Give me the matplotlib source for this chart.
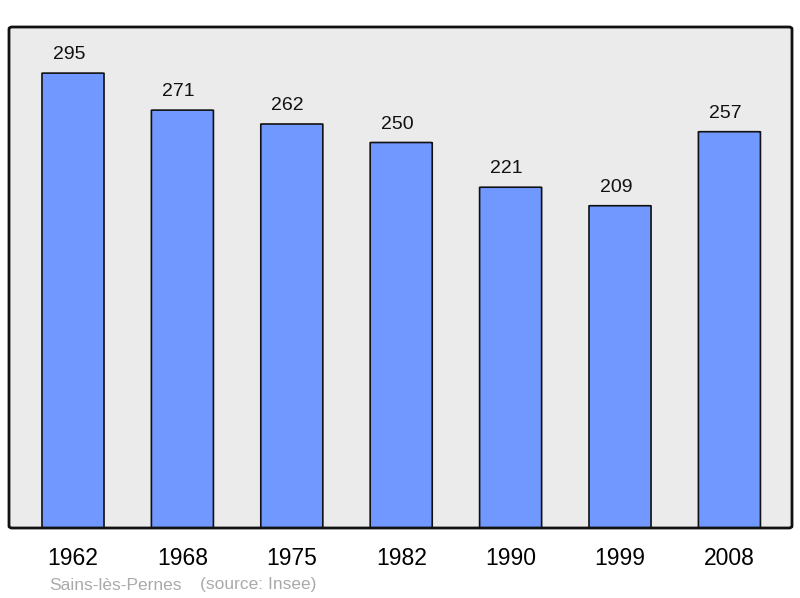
#!/usr/bin/env python3

import numpy as np
import matplotlib.pyplot as plt
from matplotlib.patches import FancyBboxPatch

years = ["1962", "1968", "1975", "1982", "1990", "1999", "2008"]
population = [295, 271, 262, 250, 221, 209, 257]
place = "Sains-lès-Pernes"
source = "(source: Insee)"


def main():
    plt.rcParams['font.family'] = ['Liberation Sans', 'DejaVu Sans']

    fig = plt.figure(figsize=(8, 5.98), dpi=100)
    ax = fig.add_axes([9 / 800, 70 / 598, 783 / 800, 501 / 598])
    ax.set_facecolor('#ebebeb')

    x = np.arange(len(years))
    width = 0.567
    for xi, val in zip(x, population):
        bar = FancyBboxPatch((xi - width / 2, 0), width, val,
                             boxstyle="round,pad=0,rounding_size=0.02",
                             mutation_aspect=8,
                             facecolor='#7098ff', edgecolor='#111111',
                             linewidth=1.2, zorder=2)
        ax.add_patch(bar)
        ax.annotate(str(val), (xi, val), xytext=(-3, 10), textcoords='offset points',
                    ha='center', va='baseline', fontsize=14, color='#111111')

    ax.set_xlim(-0.585, len(years) - 1 + 0.572)
    ax.set_ylim(0, 324.9)
    ax.set_xticks(x)
    ax.set_xticklabels(years, fontsize=16.5)
    ax.tick_params(axis='x', length=0, pad=14)
    ax.set_yticks([])

    for s in ax.spines.values():
        s.set_visible(False)
    frame = FancyBboxPatch((0, 0), 1, 1, transform=ax.transAxes,
                           boxstyle="round,pad=0,rounding_size=0.004",
                           facecolor='none', edgecolor='#111111',
                           linewidth=2, zorder=5, clip_on=False)
    ax.add_patch(frame)

    fig.text(49 / 800, 1 - 585 / 598, place, fontsize=12.5, color='#aaaaaa',
             ha='left', va='center')
    fig.text(200 / 800, 1 - 585 / 598, source, fontsize=12.5, color='#aaaaaa',
             ha='left', va='center')

    fig.savefig("out.png", dpi=100)


if __name__ == "__main__":
    main()
